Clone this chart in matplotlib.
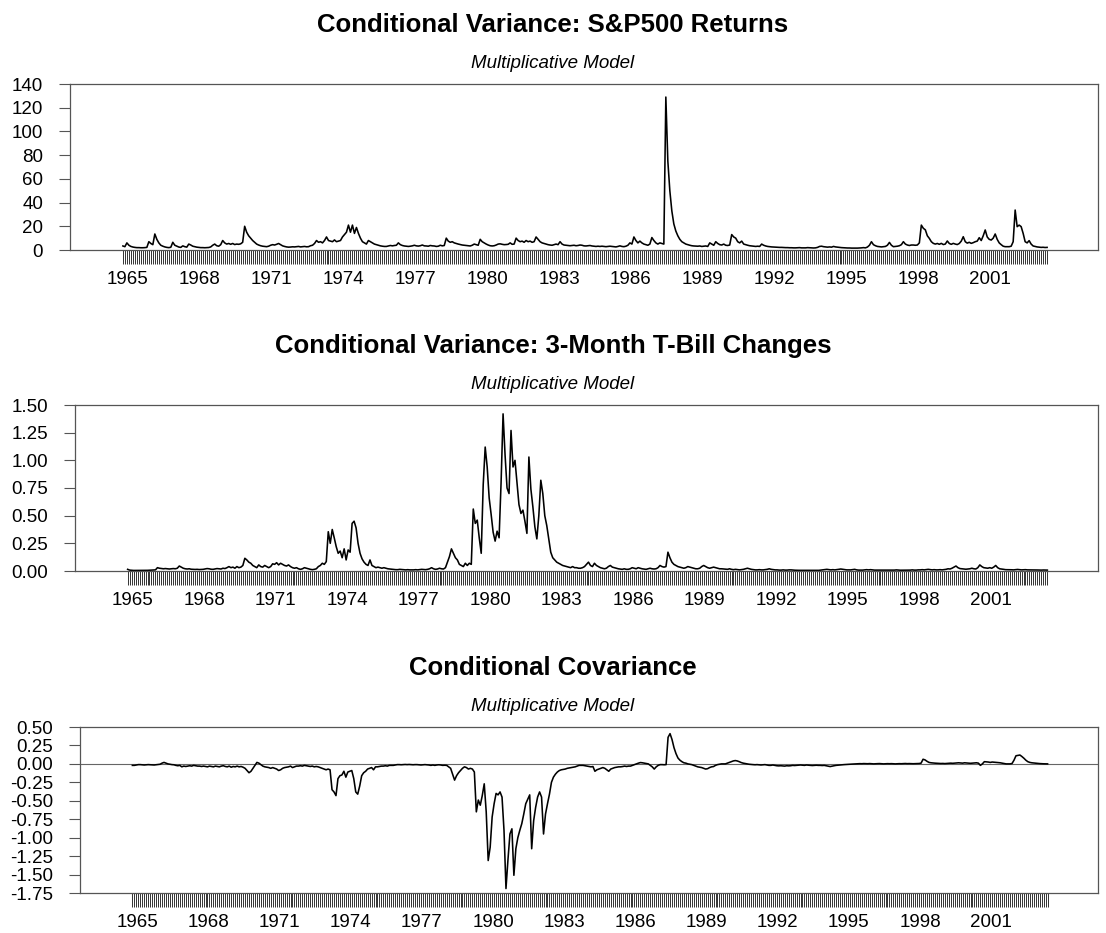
import numpy as np
import matplotlib.pyplot as plt

plt.rcParams['font.family'] = ['Liberation Sans', 'DejaVu Sans']

# monthly observations, 1965:01 - 2003:08
start_year = 1965
label_years = list(range(1965, 2002, 3))

sp500_var = [
    3.4, 2.8, 6.0, 4.0, 3.0, 2.5, 2.2, 2.0, 2.0, 1.9, 1.9, 2.0,
    2.2, 7.0, 5.5, 4.5, 13.5, 9.0, 6.0, 4.0, 3.2, 2.6, 2.2, 2.0,
    2.3, 6.5, 4.0, 3.2, 2.5, 2.2, 3.5, 2.8, 2.4, 5.0, 4.2, 3.2,
    2.8, 2.4, 2.2, 2.0, 2.0, 1.9, 2.0, 2.1, 2.6, 4.0, 5.0, 3.6,
    3.2, 4.5, 8.0, 6.0, 5.0, 5.5, 4.8, 5.5, 4.6, 5.0, 4.8, 5.2,
    6.5, 20.0, 15.0, 12.0, 10.0, 8.0, 6.5, 5.0, 4.2, 3.6, 3.2, 3.0,
    2.8, 3.2, 4.0, 4.5, 4.2, 4.8, 5.5, 4.5, 3.5, 3.0, 2.6, 2.4,
    2.5, 2.7, 2.6, 2.8, 3.0, 2.6, 2.8, 3.0, 2.7, 2.8, 3.6, 4.0,
    5.5, 8.0, 6.5, 7.0, 6.0, 8.0, 11.0, 8.0, 7.5, 7.0, 8.5, 7.0,
    7.5, 8.0, 11.0, 13.0, 15.0, 21.0, 15.0, 21.0, 14.0, 19.0, 14.0, 10.0,
    7.0, 6.0, 5.0, 8.0, 7.0, 6.0, 5.0, 4.5, 4.0, 3.5, 3.2, 3.0,
    3.0, 3.4, 3.8, 3.5, 3.8, 4.0, 6.0, 4.5, 3.8, 3.4, 3.2, 3.0,
    3.2, 3.5, 4.0, 3.5, 3.3, 3.6, 4.2, 3.5, 3.4, 3.2, 3.8, 3.5,
    3.4, 3.0, 3.2, 4.0, 3.5, 3.8, 10.0, 7.5, 6.5, 7.0, 6.0, 5.5,
    5.0, 4.6, 4.2, 4.0, 3.8, 3.6, 3.4, 4.0, 5.0, 4.5, 4.0, 9.0,
    7.0, 6.0, 5.0, 4.2, 3.6, 3.4, 3.6, 4.2, 5.0, 5.2, 4.8, 4.5,
    4.6, 4.8, 6.0, 4.8, 5.0, 10.0, 8.0, 7.0, 7.5, 6.5, 8.0, 7.0,
    7.5, 6.5, 7.0, 11.0, 9.0, 7.0, 6.0, 5.5, 5.0, 4.5, 4.2, 4.0,
    4.5, 5.0, 4.5, 7.0, 5.0, 4.2, 4.0, 3.8, 3.6, 3.8, 4.0, 3.6,
    3.8, 4.2, 4.0, 3.5, 3.4, 3.6, 3.8, 3.4, 3.2, 3.0, 3.2, 3.0,
    3.2, 3.0, 2.8, 3.0, 3.2, 3.0, 2.8, 2.6, 3.0, 3.5, 3.0, 2.8,
    3.2, 4.0, 6.0, 5.0, 11.0, 8.0, 6.0, 7.5, 6.0, 5.0, 4.5, 4.0,
    5.0, 10.5, 8.0, 6.0, 5.0, 6.0, 5.5, 5.0, 129.0, 75.0, 50.0, 33.0,
    22.0, 16.0, 12.0, 9.0, 7.0, 6.0, 5.0, 4.5, 4.0, 3.6, 3.4, 3.3,
    3.2, 3.4, 3.0, 3.2, 3.4, 3.0, 6.0, 5.0, 4.0, 7.0, 5.5, 4.5,
    4.2, 5.0, 4.0, 3.8, 4.2, 13.0, 11.0, 10.0, 7.0, 6.0, 7.5, 5.0,
    4.5, 4.0, 3.6, 3.4, 3.2, 3.0, 3.2, 3.0, 5.0, 4.0, 3.4, 3.0,
    2.8, 2.6, 2.5, 2.4, 2.3, 2.2, 2.2, 2.1, 2.0, 2.0, 1.9, 1.9,
    1.8, 1.8, 1.9, 2.0, 1.8, 1.8, 1.8, 2.0, 1.9, 1.8, 1.7, 1.8,
    2.2, 3.0, 3.2, 2.8, 2.6, 2.4, 2.6, 2.4, 3.0, 2.6, 2.4, 2.2,
    2.0, 1.9, 1.8, 1.7, 1.7, 1.6, 1.6, 1.6, 1.6, 1.7, 1.8, 2.0,
    1.8, 2.5, 4.0, 7.0, 4.5, 3.6, 3.0, 2.8, 2.6, 2.8, 3.0, 4.0,
    6.4, 4.0, 2.8, 3.0, 3.2, 3.6, 4.5, 7.0, 5.0, 4.2, 3.8, 4.2,
    4.2, 4.0, 4.2, 6.0, 21.0, 18.3, 17.0, 12.0, 9.8, 7.0, 5.6, 5.0,
    5.5, 4.8, 5.6, 4.6, 5.0, 7.6, 5.5, 4.8, 5.6, 5.0, 4.6, 5.5,
    7.5, 11.2, 7.0, 5.8, 6.5, 5.6, 6.2, 7.0, 7.5, 10.4, 8.0, 12.0,
    16.9, 11.0, 9.0, 8.4, 10.0, 13.5, 9.0, 6.0, 4.5, 3.2, 2.8, 2.8,
    2.8, 3.2, 7.0, 33.7, 19.7, 21.0, 19.7, 14.0, 7.0, 6.0, 7.9, 5.0,
    3.4, 3.0, 2.6, 2.4, 2.2, 2.3, 2.1, 2.2,
]

tbill_var = [
    0.015, 0.008, 0.006, 0.005, 0.005, 0.005, 0.006, 0.005, 0.005, 0.006, 0.006, 0.007,
    0.007, 0.008, 0.010, 0.030, 0.025, 0.022, 0.020, 0.022, 0.020, 0.018, 0.020, 0.022,
    0.020, 0.025, 0.045, 0.035, 0.025, 0.020, 0.018, 0.020, 0.016, 0.015, 0.014, 0.015,
    0.013, 0.014, 0.015, 0.018, 0.022, 0.020, 0.016, 0.015, 0.018, 0.022, 0.020, 0.018,
    0.025, 0.022, 0.030, 0.040, 0.030, 0.035, 0.025, 0.040, 0.030, 0.035, 0.050, 0.115,
    0.100, 0.080, 0.070, 0.050, 0.040, 0.030, 0.055, 0.040, 0.035, 0.050, 0.040, 0.030,
    0.040, 0.065, 0.060, 0.075, 0.055, 0.070, 0.060, 0.050, 0.045, 0.055, 0.040, 0.030,
    0.025, 0.030, 0.020, 0.015, 0.020, 0.030, 0.025, 0.020, 0.015, 0.012, 0.015, 0.020,
    0.040, 0.050, 0.070, 0.060, 0.085, 0.355, 0.250, 0.375, 0.300, 0.220, 0.160, 0.180,
    0.120, 0.200, 0.100, 0.190, 0.170, 0.430, 0.450, 0.390, 0.250, 0.160, 0.110, 0.080,
    0.060, 0.050, 0.100, 0.050, 0.040, 0.030, 0.035, 0.030, 0.025, 0.030, 0.025, 0.020,
    0.018, 0.015, 0.013, 0.012, 0.012, 0.015, 0.013, 0.012, 0.010, 0.012, 0.010, 0.010,
    0.010, 0.012, 0.010, 0.012, 0.015, 0.013, 0.012, 0.015, 0.020, 0.030, 0.020, 0.015,
    0.018, 0.025, 0.020, 0.018, 0.030, 0.080, 0.130, 0.200, 0.160, 0.120, 0.100, 0.060,
    0.050, 0.040, 0.070, 0.050, 0.070, 0.060, 0.560, 0.430, 0.460, 0.300, 0.160, 0.780,
    1.120, 0.940, 0.660, 0.510, 0.350, 0.270, 0.360, 0.300, 0.800, 1.420, 1.050, 0.750,
    0.700, 1.270, 0.940, 1.000, 0.800, 0.600, 0.520, 0.550, 0.450, 0.340, 1.030, 0.740,
    0.580, 0.400, 0.290, 0.500, 0.820, 0.700, 0.500, 0.410, 0.290, 0.170, 0.120, 0.100,
    0.080, 0.070, 0.060, 0.050, 0.045, 0.040, 0.035, 0.030, 0.040, 0.030, 0.030, 0.025,
    0.025, 0.030, 0.040, 0.060, 0.080, 0.050, 0.040, 0.070, 0.050, 0.040, 0.030, 0.025,
    0.020, 0.025, 0.040, 0.050, 0.035, 0.030, 0.025, 0.020, 0.018, 0.015, 0.020, 0.015,
    0.015, 0.020, 0.030, 0.025, 0.020, 0.030, 0.025, 0.020, 0.018, 0.015, 0.020, 0.025,
    0.020, 0.018, 0.020, 0.030, 0.050, 0.040, 0.035, 0.040, 0.170, 0.120, 0.080, 0.060,
    0.050, 0.040, 0.035, 0.030, 0.025, 0.030, 0.040, 0.035, 0.030, 0.025, 0.020, 0.020,
    0.025, 0.040, 0.050, 0.040, 0.030, 0.025, 0.030, 0.035, 0.030, 0.025, 0.020, 0.020,
    0.018, 0.015, 0.015, 0.020, 0.015, 0.012, 0.015, 0.012, 0.010, 0.012, 0.015, 0.020,
    0.025, 0.020, 0.015, 0.012, 0.010, 0.010, 0.012, 0.010, 0.010, 0.012, 0.015, 0.020,
    0.015, 0.012, 0.010, 0.010, 0.008, 0.008, 0.010, 0.008, 0.008, 0.010, 0.010, 0.008,
    0.007, 0.006, 0.006, 0.006, 0.005, 0.005, 0.006, 0.005, 0.005, 0.005, 0.006, 0.005,
    0.006, 0.008, 0.010, 0.012, 0.015, 0.012, 0.010, 0.012, 0.010, 0.012, 0.015, 0.018,
    0.015, 0.012, 0.010, 0.010, 0.010, 0.012, 0.015, 0.010, 0.008, 0.008, 0.008, 0.010,
    0.012, 0.010, 0.012, 0.010, 0.008, 0.008, 0.008, 0.007, 0.007, 0.007, 0.007, 0.008,
    0.008, 0.007, 0.008, 0.010, 0.008, 0.007, 0.007, 0.007, 0.007, 0.008, 0.008, 0.010,
    0.008, 0.008, 0.010, 0.010, 0.012, 0.010, 0.012, 0.015, 0.012, 0.010, 0.012, 0.010,
    0.010, 0.012, 0.010, 0.012, 0.015, 0.020, 0.018, 0.025, 0.035, 0.045, 0.030, 0.022,
    0.020, 0.018, 0.016, 0.018, 0.020, 0.025, 0.020, 0.018, 0.030, 0.055, 0.040, 0.030,
    0.028, 0.025, 0.030, 0.025, 0.035, 0.050, 0.030, 0.020, 0.018, 0.015, 0.012, 0.012,
    0.012, 0.011, 0.010, 0.012, 0.014, 0.012, 0.010, 0.011, 0.012, 0.010, 0.010, 0.009,
    0.010, 0.009, 0.009, 0.008, 0.008, 0.009, 0.008, 0.008,
]

covar = [
    -0.020, -0.020, -0.015, -0.010, -0.010, -0.012, -0.015, -0.012, -0.010, -0.012, -0.015, -0.015,
    -0.012, -0.010, -0.005, 0.010, 0.020, 0.010, 0.000, -0.005, -0.010, -0.012, -0.020, -0.025,
    -0.020, -0.040, -0.030, -0.035, -0.030, -0.025, -0.030, -0.020, -0.025, -0.030, -0.030, -0.035,
    -0.030, -0.035, -0.040, -0.030, -0.035, -0.040, -0.030, -0.035, -0.040, -0.030, -0.025, -0.035,
    -0.040, -0.030, -0.045, -0.035, -0.040, -0.030, -0.040, -0.035, -0.045, -0.060, -0.090, -0.120,
    -0.100, -0.060, -0.020, 0.020, 0.010, -0.010, -0.030, -0.040, -0.045, -0.050, -0.060, -0.050,
    -0.060, -0.070, -0.090, -0.080, -0.060, -0.050, -0.045, -0.040, -0.030, -0.050, -0.040, -0.030,
    -0.030, -0.025, -0.030, -0.020, -0.025, -0.030, -0.035, -0.030, -0.040, -0.035, -0.040, -0.050,
    -0.060, -0.070, -0.080, -0.070, -0.080, -0.350, -0.380, -0.430, -0.200, -0.160, -0.150, -0.100,
    -0.180, -0.110, -0.100, -0.090, -0.200, -0.380, -0.410, -0.300, -0.160, -0.120, -0.100, -0.070,
    -0.060, -0.050, -0.080, -0.040, -0.040, -0.035, -0.030, -0.030, -0.025, -0.030, -0.020, -0.020,
    -0.020, -0.015, -0.010, -0.010, -0.012, -0.010, -0.008, -0.010, -0.008, -0.010, -0.012, -0.010,
    -0.010, -0.012, -0.015, -0.012, -0.010, -0.012, -0.015, -0.020, -0.015, -0.020, -0.015, -0.012,
    -0.015, -0.020, -0.018, -0.020, -0.040, -0.060, -0.140, -0.220, -0.160, -0.120, -0.090, -0.060,
    -0.040, -0.050, -0.070, -0.060, -0.070, -0.110, -0.650, -0.490, -0.560, -0.430, -0.270, -0.650,
    -1.310, -1.130, -0.720, -0.540, -0.400, -0.420, -0.380, -0.450, -0.900, -1.690, -1.300, -0.950,
    -0.880, -1.510, -1.150, -1.000, -0.900, -0.810, -0.680, -0.540, -0.480, -0.420, -1.150, -0.770,
    -0.590, -0.450, -0.380, -0.450, -0.950, -0.680, -0.540, -0.410, -0.250, -0.180, -0.140, -0.110,
    -0.090, -0.080, -0.075, -0.070, -0.060, -0.055, -0.050, -0.045, -0.040, -0.030, -0.020, -0.020,
    -0.020, -0.025, -0.030, -0.035, -0.040, -0.036, -0.100, -0.080, -0.070, -0.060, -0.050, -0.060,
    -0.080, -0.100, -0.070, -0.060, -0.050, -0.045, -0.040, -0.040, -0.036, -0.030, -0.035, -0.030,
    -0.030, -0.020, -0.010, 0.000, 0.010, 0.018, 0.015, 0.010, 0.005, 0.000, -0.020, -0.040,
    -0.070, -0.040, -0.020, -0.010, -0.010, -0.012, -0.010, 0.360, 0.410, 0.330, 0.220, 0.140,
    0.080, 0.050, 0.030, 0.015, 0.010, 0.000, -0.005, -0.010, -0.020, -0.030, -0.040, -0.045,
    -0.050, -0.060, -0.070, -0.065, -0.050, -0.040, -0.036, -0.020, -0.010, -0.005, 0.000, 0.000,
    0.000, 0.010, 0.020, 0.030, 0.040, 0.045, 0.040, 0.030, 0.018, 0.010, 0.005, 0.000,
    -0.005, -0.008, -0.010, -0.012, -0.010, -0.012, -0.015, -0.012, -0.010, -0.015, -0.020, -0.020,
    -0.015, -0.020, -0.025, -0.027, -0.025, -0.027, -0.030, -0.025, -0.027, -0.025, -0.020, -0.022,
    -0.020, -0.018, -0.015, -0.018, -0.020, -0.015, -0.018, -0.020, -0.022, -0.020, -0.018, -0.020,
    -0.020, -0.022, -0.020, -0.025, -0.030, -0.036, -0.030, -0.025, -0.020, -0.018, -0.015, -0.012,
    -0.010, -0.008, -0.006, -0.004, -0.003, -0.002, 0.000, 0.002, 0.003, 0.002, 0.004, 0.003,
    0.002, 0.004, 0.002, 0.000, 0.002, 0.003, 0.004, 0.002, 0.000, 0.002, 0.003, 0.002,
    0.003, 0.002, 0.000, 0.002, 0.003, 0.002, 0.004, 0.005, 0.003, 0.004, 0.003, 0.002,
    0.003, 0.004, 0.005, 0.010, 0.063, 0.054, 0.035, 0.020, 0.015, 0.012, 0.010, 0.008,
    0.006, 0.005, 0.006, 0.004, 0.006, 0.008, 0.010, 0.008, 0.010, 0.012, 0.015, 0.012,
    0.010, 0.015, 0.012, 0.010, 0.008, 0.010, 0.012, 0.015, 0.010, -0.020, 0.000, 0.030,
    0.028, 0.025, 0.020, 0.025, 0.022, 0.020, 0.018, 0.015, 0.010, 0.005, 0.000, 0.000,
    0.000, 0.005, 0.050, 0.110, 0.115, 0.120, 0.100, 0.077, 0.050, 0.030, 0.020, 0.015,
    0.012, 0.010, 0.006, 0.004, 0.002, 0.001, 0.000, 0.000,
]

titles = ['Conditional Variance: S&P500 Returns',
          'Conditional Variance: 3-Month T-Bill Changes',
          'Conditional Covariance']
subtitle = 'Multiplicative Model'
series = [sp500_var, tbill_var, covar]
ylims = [(0, 140), (0, 1.5), (-1.75, 0.5)]
ytick_sets = [np.arange(0, 141, 20), np.arange(0, 1.51, 0.25), np.arange(-1.75, 0.51, 0.25)]
yfmts = ['{:.0f}', '{:.2f}', '{:.2f}']

W, H = 1106, 933
# frame of each panel in pixels: left, top, right, bottom
frames = [(70, 84, 1098, 250), (75, 405, 1098, 571), (80, 727, 1098, 893)]

fig = plt.figure(figsize=(W / 100, H / 100), dpi=100)
frame_col = '#555555'

for i in range(3):
    l, t, r, b = frames[i]
    ax = fig.add_axes([l / W, 1 - b / H, (r - l) / W, (b - t) / H])
    y = np.array(series[i])
    x = np.arange(len(y))
    ax.plot(x, y, color='black', lw=1.15)
    if i == 2:
        ax.axhline(0, color='#666666', lw=0.8, zorder=1)

    ax.set_xlim(-26.5, 488.5)
    ax.set_ylim(*ylims[i])
    ax.set_yticks(ytick_sets[i])
    ax.set_yticklabels([yfmts[i].format(v) for v in ytick_sets[i]])

    # one small tick per month, labels every third year
    ax.set_xticks(x, minor=True)
    ax.set_xticks([12 * (yr - start_year) + 2.5 for yr in label_years])
    ax.set_xticklabels([str(yr) for yr in label_years])

    ax.tick_params(axis='x', which='minor', length=10.1, width=0.7,
                   color='#333333', direction='out')
    ax.tick_params(axis='x', which='major', length=10.1, width=0,
                   pad=5.0, labelsize=13.5)
    ax.tick_params(axis='y', which='major', length=7.9, width=0.8,
                   color=frame_col, pad=11.5, labelsize=13.5)
    for s in ax.spines.values():
        s.set_color(frame_col)
        s.set_linewidth(0.9)

    fig.text(553 / W, 1 - (t - 52) / H, titles[i], ha='center', va='baseline',
             fontsize=18.5, fontweight='bold')
    fig.text(553 / W, 1 - (t - 16) / H, subtitle, ha='center', va='baseline',
             fontsize=13.5, style='italic')

fig.savefig('out.png', dpi=100)
